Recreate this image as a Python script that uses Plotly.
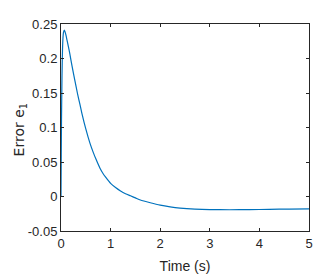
import plotly.graph_objects as go

time_s = [0.0, 0.005, 0.01, 0.02, 0.03, 0.04, 0.05, 0.067, 0.08, 0.1, 0.12, 0.15, 0.18,
          0.22, 0.28, 0.33, 0.383, 0.42, 0.5, 0.585, 0.65, 0.7, 0.786, 0.85, 0.9, 1.0,
          1.1, 1.2, 1.3, 1.4, 1.5, 1.6, 1.8, 2.0, 2.2, 2.4, 2.7, 3.0, 3.4, 3.8, 4.2, 4.6, 5.0]
error_e1 = [0.0, 0.06, 0.11, 0.175, 0.212, 0.23, 0.238, 0.241, 0.239, 0.234, 0.227, 0.217, 0.206,
            0.19, 0.168, 0.15, 0.133, 0.121, 0.098, 0.077, 0.064, 0.055, 0.041, 0.033, 0.028, 0.019,
            0.013, 0.008, 0.004, 0.001, -0.002, -0.005, -0.009, -0.0125, -0.015, -0.0168, -0.0183, -0.019, -0.0192, -0.019, -0.0186, -0.0182, -0.0178]

x_ticks = [0, 1, 2, 3, 4, 5]
x_tick_labels = ["0", "1", "2", "3", "4", "5"]
y_ticks = [-0.05, 0, 0.05, 0.1, 0.15, 0.2, 0.25]
y_tick_labels = ["-0.05", "0", "0.05", "0.1", "0.15", "0.2", "0.25"]

fig = go.Figure()
fig.add_trace(go.Scatter(x=time_s, y=error_e1, mode="lines",
                         line=dict(color="#0072BD", width=1.2, shape="spline", smoothing=0.6),
                         showlegend=False, hoverinfo="skip"))

tick_font = dict(family="Liberation Sans Narrow, Liberation Sans, Arial", size=13, color="#262626")
axis_common = dict(showline=True, linecolor="#262626", linewidth=1, mirror="ticks",
                   ticks="inside", ticklen=3, tickcolor="#262626", showgrid=False,
                   zeroline=False, tickfont=tick_font)

fig.update_layout(
    width=319, height=272,
    margin=dict(l=53, r=18, t=9, b=49),
    paper_bgcolor="white", plot_bgcolor="white",
    xaxis=dict(range=[0, 5], tickvals=x_ticks, ticktext=x_tick_labels,
               title=dict(text="Time (s)", standoff=11,
                          font=dict(family="Liberation Sans Narrow, Liberation Sans, Arial", size=14, color="#262626")),
               **axis_common),
    yaxis=dict(range=[-0.05, 0.25], tickvals=y_ticks, ticktext=y_tick_labels, **axis_common),
    annotations=[dict(text="Error e<sub>1</sub>", xref="paper", yref="paper", x=0, y=0.486,
                      xshift=-41, xanchor="center", yanchor="middle", textangle=-90, showarrow=False,
                      font=dict(family="DejaVu Sans", size=14, color="#262626"))],
)

fig.write_html("out.html")
